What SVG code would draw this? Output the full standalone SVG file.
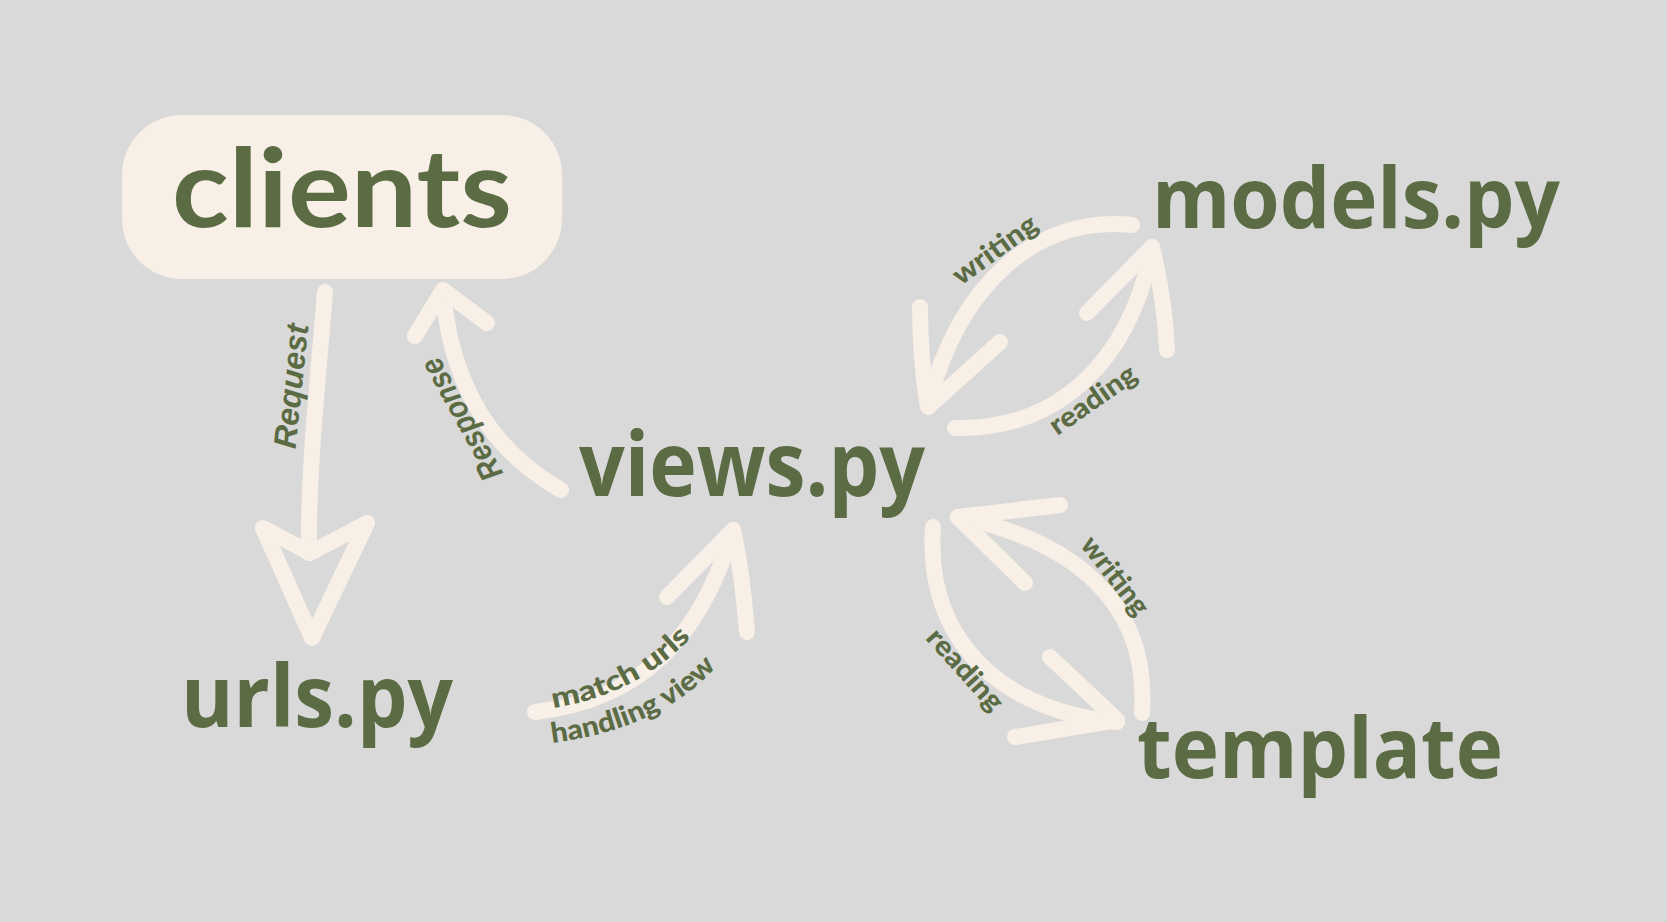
<svg xmlns="http://www.w3.org/2000/svg" width="1667" height="922" viewBox="0 0 1667 922">
<defs>
<style>
.node{font-family:"Open Sans","Liberation Sans",sans-serif;font-weight:700;fill:#5b6b43}
.clients{font-family:Lato,"Open Sans",sans-serif;font-weight:700;fill:#5b6b43}
.lbl{font-family:Lato,"DejaVu Sans",sans-serif;font-weight:900;fill:#5b6b43;font-size:28px}
.scr{font-family:"Liberation Sans",sans-serif;font-weight:700;font-style:italic;fill:#5b6b43;font-size:32px}
.c{fill:none;stroke:#f8efe7;stroke-width:16;stroke-linecap:round;stroke-linejoin:round}
</style>
<path id="pMatch" d="M 553 708 Q 642 694 698 630"/>
<path id="pHandle" d="M 552 743 Q 667 728 722 660"/>
</defs>
<rect width="1667" height="922" fill="#d9d9d9"/>

<g id="connectors">
  <g id="request">
    <path class="c" d="M 325 292 C 318 380, 308 470, 309 553"/>
    <path class="c" d="M 263 528 L 310 553 L 367 523 L 312 638 Z"/>
  </g>
  <g id="response">
    <path class="c" d="M 561 490 Q 455 430 443 292"/>
    <path class="c" d="M 415 336 L 443 290 L 487 323"/>
  </g>
  <g id="match">
    <path class="c" d="M 535 712 C 640 700, 700 640, 733 530"/>
    <path class="c" d="M 667 597 L 733 530 Q 742 570 747 632"/>
  </g>
  <g id="models-writing">
    <path class="c" d="M 1132 225 C 1040 215, 960 280, 928 405"/>
    <path class="c" d="M 920 307 Q 920 360 928 407 L 1000 342"/>
  </g>
  <g id="models-reading">
    <path class="c" d="M 955 428 C 1060 430, 1130 360, 1152 248"/>
    <path class="c" d="M 1087 313 L 1152 247 Q 1165 300 1167 350"/>
  </g>
  <g id="template-writing">
    <path class="c" d="M 1142 713 C 1150 600, 1070 540, 958 517"/>
    <path class="c" d="M 1060 505 L 958 517 L 1025 583"/>
  </g>
  <g id="template-reading">
    <path class="c" d="M 933 527 C 925 640, 1000 710, 1117 722"/>
    <path class="c" d="M 1050 657 L 1117 720 L 1015 737"/>
  </g>
  <text class="scr" transform="translate(292,386) rotate(-84)" text-anchor="middle" y="10" textLength="125" lengthAdjust="spacingAndGlyphs">Request</text>
  <text class="scr" transform="translate(462,419) rotate(-119)" text-anchor="middle" y="10" textLength="135" lengthAdjust="spacingAndGlyphs">Response</text>
  <text class="lbl"><textPath href="#pMatch" textLength="158" lengthAdjust="spacingAndGlyphs">match urls</textPath></text>
  <text class="lbl"><textPath href="#pHandle" textLength="185" lengthAdjust="spacingAndGlyphs">handling view</textPath></text>
  <text class="lbl" transform="translate(995,250) rotate(-36)" text-anchor="middle" y="9" textLength="98" lengthAdjust="spacingAndGlyphs">writing</text>
  <text class="lbl" transform="translate(1093,400) rotate(-35)" text-anchor="middle" y="9" textLength="100" lengthAdjust="spacingAndGlyphs">reading</text>
  <text class="lbl" transform="translate(1115,576) rotate(52)" text-anchor="middle" y="9" textLength="92" lengthAdjust="spacingAndGlyphs">writing</text>
  <text class="lbl" transform="translate(965,670) rotate(48)" text-anchor="middle" y="9" textLength="100" lengthAdjust="spacingAndGlyphs">reading</text>
</g>

<g id="clients">
  <rect x="122" y="115" width="440" height="164" rx="60" fill="#f8efe7"/>
  <text class="clients" x="172" y="227" font-size="110" textLength="340" lengthAdjust="spacingAndGlyphs">clients</text>
</g>
<g id="urls">
  <text class="node" x="181" y="727" font-size="86" textLength="272" lengthAdjust="spacingAndGlyphs">urls.py</text>
</g>
<g id="views">
  <text class="node" x="579" y="496" font-size="90" textLength="346" lengthAdjust="spacingAndGlyphs">views.py</text>
</g>
<g id="models">
  <text class="node" x="1152" y="228" font-size="84" textLength="408" lengthAdjust="spacingAndGlyphs">models.py</text>
</g>
<g id="template">
  <text class="node" x="1137" y="778" font-size="84" textLength="366" lengthAdjust="spacingAndGlyphs">template</text>
</g>
</svg>
